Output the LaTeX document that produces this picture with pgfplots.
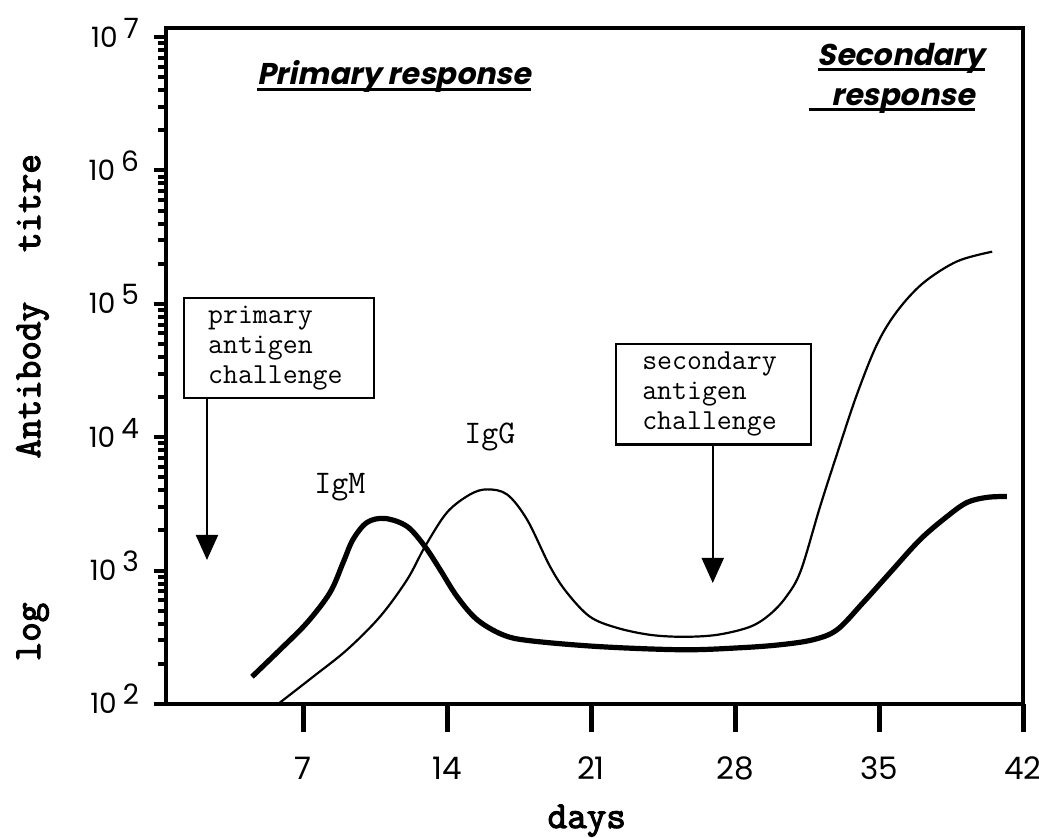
\documentclass[border=0pt]{standalone}
\usepackage{pgfplots}
\pgfplotsset{compat=1.18}
\usetikzlibrary{arrows.meta}
\usepackage{fontspec}
\setmainfont{Poppins}
\newfontfamily\tickfont{Poppins}
\newfontfamily\headfont{Poppins}[FakeSlant=0.2]
\newfontfamily\monobold{Latin Modern Mono}[FakeBold=3]
\newcommand{\ulbox}[1]{\setbox0=\hbox{#1}\leavevmode\rlap{\copy0}\rule[-3pt]{\wd0}{1.6pt}}
\newcommand{\ytl}[1]{10\hspace{3pt}\raisebox{4.5pt}{#1}}
\begin{document}
\begin{tikzpicture}
\begin{axis}[
  scale only axis, width=428.5pt, height=338pt,
  xmin=0.34, xmax=42, ymode=log, ymin=100, ymax=1.17e7,
  axis line style={line width=2pt},
  tick pos=left, tick align=outside,
  xtick={7,14,21,28,35,42}, xticklabels={7,14,21,28,35,42},
  xtick style={draw=none},
  xticklabel style={font=\tickfont\fontsize{15.5}{15.5}\selectfont, yshift=-17pt},
  ytick={1e2,1e3,1e4,1e5,1e6,1e7},
  yticklabels={\ytl{2},\ytl{3},\ytl{4},\ytl{5},\ytl{6},\ytl{7}},
  yticklabel style={font=\tickfont\fontsize{14}{14}\selectfont, anchor=base east, yshift=-5pt, xshift=-4pt},
  major tick length=6pt, minor tick length=4pt,
  ytick style={line width=2pt, black},
  minor tick style={line width=1.5pt, black},
  clip=false,
]
\pgfplotsinvokeforeach{7,14,21,28,35,42}{\draw[line width=2.5pt] (axis cs:#1,100) -- ([yshift=-14pt]axis cs:#1,100);}
% IgM (thick)
\addplot[line width=2.6pt, smooth, tension=0.55] coordinates {
(4.52,160) (5.88,255) (7.19,406) (8.31,684) (8.95,1148) (9.43,1710) (10.11,2296) (10.99,2460) (12.06,2143) (12.93,1514) (13.66,1019) (14.49,638) (15.46,429) (16.72,330) (18.04,298) (21.44,269) (25.47,255) (28.25,264) (30.19,278) (31.79,303) (32.96,360) (34.22,574) (35.54,966) (37.0,1710) (38.31,2547) (39.28,3243) (40.25,3540) (41.22,3597)
};
% IgG (thin)
\addplot[line width=1.1pt, smooth, tension=0.55] coordinates {
(5.79,100) (7.49,160) (9.14,255) (10.74,451) (12.06,855) (12.93,1514) (14.0,2729) (15.12,3724) (15.95,4064) (16.92,3724) (17.89,2415) (19.01,1072) (19.83,684) (20.95,451) (22.27,372) (23.87,330) (25.47,319) (27.13,330) (28.73,379) (29.7,470) (30.5,640) (31.2,1000) (32.13,3000) (32.96,7500) (33.93,21000) (34.91,50000) (35.88,88000) (37.14,143000) (38.79,208000) (40.5,246000)
};
\node[draw, line width=1.2pt, anchor=north west, inner xsep=12pt, inner ysep=4pt, text width=71pt, align=left, font=\ttfamily\fontsize{14.5}{15}\selectfont] (pb) at (rel axis cs:0.0198,0.602) {primary\\antigen\\challenge};
\coordinate (pa) at (rel axis cs:0.0478,0.213);
\draw[line width=1pt, -{Triangle[width=11pt,length=12.5pt]}] (pb.south -| pa) -- (pa);
\node[draw, line width=1.2pt, anchor=north west, inner xsep=13pt, inner ysep=4pt, text width=71.5pt, align=left, font=\ttfamily\fontsize{14.5}{15}\selectfont] (sb) at (rel axis cs:0.524,0.534) {secondary\\antigen\\challenge};
\coordinate (sa) at (rel axis cs:0.638,0.179);
\draw[line width=1pt, -{Triangle[width=11pt,length=12.5pt]}] (sb.south -| sa) -- (sa);
\node[font=\ttfamily\fontsize{16.5}{16.5}\selectfont] at (rel axis cs:0.203,0.321) {IgM};
\node[font=\ttfamily\fontsize{16.5}{16.5}\selectfont] at (rel axis cs:0.378,0.395) {IgG};
\node[anchor=base, font=\headfont\bfseries\fontsize{15}{15}\selectfont] at (rel axis cs:0.266,0.916) {\ulbox{Primary response}};
\node[anchor=base, font=\headfont\bfseries\fontsize{15}{15}\selectfont] at (rel axis cs:0.858,0.945) {\ulbox{Secondary}};
\node[anchor=base, font=\headfont\bfseries\fontsize{15}{15}\selectfont] at (rel axis cs:0.860,0.886) {\llap{\rule[-3pt]{11.5pt}{1.6pt}}\ulbox{response}};
\node[rotate=90, anchor=base, font=\monobold\fontsize{19}{19}\selectfont] at (rel axis cs:-0.147,0.1065) {log};
\node[rotate=90, anchor=base, font=\monobold\fontsize{19}{19}\selectfont] at (rel axis cs:-0.147,0.479) {Antibody};
\node[rotate=90, anchor=base, font=\monobold\fontsize{19}{19}\selectfont] at (rel axis cs:-0.147,0.741) {titre};
\node[anchor=base, font=\monobold\fontsize{19}{19}\selectfont] at (rel axis cs:0.491,-0.1834) {days};
\coordinate (O) at (rel axis cs:0,0);
\end{axis}
\pgfresetboundingbox
\path ([shift={(-83pt,-67pt)}]O) rectangle ++(519.5pt,419pt);
\end{tikzpicture}
\end{document}
